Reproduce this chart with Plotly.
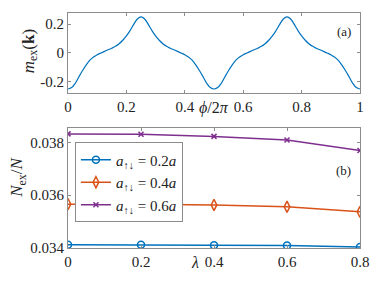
import plotly.graph_objects as go
from plotly.subplots import make_subplots

# ---- data ----
phi = [i * 0.0125 for i in range(81)]
m_ex = [
    -0.250, -0.240, -0.210, -0.165, -0.122, -0.083, -0.050, -0.028, -0.012, 0.000,
    0.011, 0.022, 0.033, 0.046, 0.064, 0.088, 0.118, 0.155, 0.198, 0.235,
    0.250,
    0.235, 0.198, 0.155, 0.118, 0.088, 0.064, 0.046, 0.033, 0.022, 0.011,
    0.000, -0.012, -0.028, -0.050, -0.083, -0.122, -0.165, -0.210, -0.240,
    -0.250,
    -0.240, -0.210, -0.165, -0.122, -0.083, -0.050, -0.028, -0.012, 0.000,
    0.011, 0.022, 0.033, 0.046, 0.064, 0.088, 0.118, 0.155, 0.198, 0.235,
    0.250,
    0.235, 0.198, 0.155, 0.118, 0.088, 0.064, 0.046, 0.033, 0.022, 0.011,
    0.000, -0.012, -0.028, -0.050, -0.083, -0.122, -0.165, -0.210, -0.240,
    -0.250,
]

lam = [0, 0.2, 0.4, 0.6, 0.8]
n_02 = [0.034125, 0.03412, 0.03410, 0.03409, 0.03404]
n_04 = [0.03566, 0.03566, 0.03563, 0.03556, 0.03537]
n_06 = [0.03832, 0.03831, 0.038225, 0.03809, 0.03769]

series_names = ["<i>a</i><sub>↑↓</sub> = 0.2<i>a</i>",
                "<i>a</i><sub>↑↓</sub> = 0.4<i>a</i>",
                "<i>a</i><sub>↑↓</sub> = 0.6<i>a</i>"]

top_xticks = [0, 0.2, 0.4, 0.6, 0.8, 1]
top_xlabels = ["0", "0.2", "0.4", "0.6", "0.8", "1"]
top_yticks = [-0.2, 0, 0.2]
top_ylabels = ["-0.2", "0", "0.2"]
bot_xticks = [0, 0.2, 0.4, 0.6, 0.8]
bot_xlabels = ["0", "0.2", "0.4", "0.6", "0.8"]
bot_yticks = [0.034, 0.036, 0.038]
bot_ylabels = ["0.034", "0.036", "0.038"]

BLUE = "#0072BD"
ORANGE = "#D95319"
PURPLE = "#7E2F8E"
FONT = "Liberation Serif"
AXC = "#8c8c8c"

fig = make_subplots(rows=2, cols=1)
fig.update_layout(
    yaxis=dict(domain=[0.66, 1.0]),
    yaxis2=dict(domain=[0.0, 0.5114]),
)

fig.add_trace(go.Scatter(x=phi, y=m_ex, mode="lines", line=dict(color=BLUE, width=1.2, shape="spline"),
                         showlegend=False), row=1, col=1)

for ys, name, col, sym, sz in [
    (n_02, series_names[0], BLUE, "circle-open", 7),
    (n_04, series_names[1], ORANGE, "diamond-tall-open", 8),
    (n_06, series_names[2], PURPLE, "x-thin-open", 5),
]:
    fig.add_trace(go.Scatter(x=lam, y=ys, mode="lines+markers", name=name,
                             line=dict(color=col, width=1.5),
                             marker=dict(symbol=sym, size=sz, color=col, line=dict(color=col, width=1.5))),
                  row=2, col=1)

axis_common = dict(showgrid=False, zeroline=False, showline=True, linecolor=AXC, linewidth=1.2,
                   mirror="ticks", ticks="inside", ticklen=3, tickcolor=AXC, tickwidth=1,
                   tickfont=dict(family=FONT, size=15, color="#222"))

fig.update_xaxes(range=[0, 1], tickvals=top_xticks, ticktext=top_xlabels, row=1, col=1, **axis_common)
fig.update_yaxes(range=[-0.277, 0.277], tickvals=top_yticks, ticktext=top_ylabels, row=1, col=1, **axis_common)
fig.update_xaxes(range=[0, 0.8], tickvals=bot_xticks, ticktext=bot_xlabels, row=2, col=1, **axis_common)
fig.update_yaxes(range=[0.034, 0.03855], tickvals=bot_yticks, ticktext=bot_ylabels, row=2, col=1, **axis_common)

W, H = 381, 286
ML, MR, MT, MB = 68, 18, 12, 38

def px(x):
    return (x - ML) / (W - ML - MR)

def py(y):
    return 1 - (y - MT) / (H - MT - MB)

ann = [
    dict(text="<i>m</i><sub>ex</sub>(<b>k</b>)", x=px(29), y=py(50), textangle=-90, size=17),
    dict(text="<i>N</i><sub>ex</sub>/<i>N</i>", x=px(18), y=py(177), textangle=-90, size=17),
    dict(text="<i>ϕ</i>/2<i>π</i>", x=px(216), y=py(107), textangle=0, size=16),
    dict(text="<i>λ</i>", x=px(196), y=py(263), textangle=0, size=16),
    dict(text="(a)", x=px(347), y=py(31), textangle=0, size=13),
    dict(text="(b)", x=px(346), y=py(170), textangle=0, size=13),
]
for a in ann:
    fig.add_annotation(text=a["text"], x=a["x"], y=a["y"], xref="paper", yref="paper",
                       textangle=a["textangle"], showarrow=False, xanchor="center", yanchor="middle",
                       font=dict(family=FONT, size=a["size"], color="#222"))

fig.update_layout(
    width=W, height=H,
    margin=dict(l=ML, r=MR, t=MT, b=MB),
    paper_bgcolor="white", plot_bgcolor="white",
    font=dict(family=FONT, size=14, color="#222"),
    legend=dict(x=px(75), y=py(142), xanchor="left", yanchor="top",
                bordercolor=AXC, borderwidth=1, bgcolor="white",
                font=dict(family=FONT, size=15, color="#222"),
                itemwidth=30, tracegroupgap=0),
)

fig.write_html("out.html", config={"displayModeBar": False},
               post_script="document.body.style.margin='0';")
